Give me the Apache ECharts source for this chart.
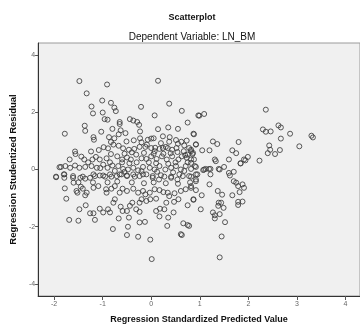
<!DOCTYPE html>
<html>
<head>
<meta charset="utf-8">
<script src="https://cdn.jsdelivr.net/npm/echarts@6/dist/echarts.min.js"></script>
<style>
  html, body { margin: 0; padding: 0; background: #fff; }
  #chart { width: 360px; height: 329px; }
</style>
</head>
<body>
<div id="chart"></div>
<script>
// 图表文字
var chartTitle = 'Scatterplot';
var chartSubtitle = 'Dependent Variable: LN_BM';
var xName = 'Regression Standardized Predicted Value';
var yName = 'Regression Studentized Residual';

// 刻度
var xTicks = [-2, -1, 0, 1, 2, 3, 4];
var yTicks = [-4, -2, 0, 2, 4];

// [predicted, residual]
var points = [
  [-1.48, 3.09], [-0.91, 2.97], [0.14, 3.10], [-1.33, 2.66], [-1.01, 2.41], [-0.83, 2.33],
  [0.37, 2.30], [-1.23, 2.20], [-0.76, 2.16], [-0.21, 2.19], [-0.73, 2.04], [0.63, 2.05],
  [-1.20, 1.96], [-1.00, 1.99], [0.07, 1.89], [0.97, 1.89], [-0.96, 1.76], [-0.90, 1.74],
  [-0.65, 1.66], [-0.65, 1.59], [-0.44, 1.76], [-0.37, 1.71], [-0.29, 1.66], [-0.25, 1.56],
  [0.75, 1.64], [-1.37, 1.53], [-1.36, 1.35], [-1.78, 1.25], [-1.03, 1.32], [-0.80, 1.42],
  [-0.63, 1.37], [-0.53, 1.27], [-0.67, 1.23], [-0.23, 1.33], [-0.23, 1.09], [0.14, 1.41],
  [0.35, 1.47], [0.55, 1.42], [0.87, 1.25], [-1.19, 1.13], [-1.18, 1.04], [-0.87, 1.13],
  [-0.76, 1.09], [-0.83, 0.96], [-0.51, 0.98], [-0.36, 1.02], [-0.07, 1.04], [0.05, 1.09],
  [0.24, 1.16], [0.38, 1.13], [0.37, 0.97], [0.51, 1.03], [0.62, 0.97], [0.73, 1.01],
  [0.92, 0.88], [-1.57, 0.63], [-1.56, 0.54], [-1.24, 0.63], [-1.08, 0.68], [-0.98, 0.78],
  [-0.89, 0.74], [-0.78, 0.87], [-0.67, 0.83], [-0.58, 0.74], [-0.46, 0.69], [-0.35, 0.72],
  [-0.24, 0.79], [-0.12, 0.79], [-0.09, 0.87], [0.08, 0.76], [0.17, 0.72], [0.30, 0.79],
  [0.43, 0.69], [0.52, 0.75], [0.67, 0.64], [0.78, 0.75], [0.86, 0.58], [-1.68, 0.35],
  [-1.44, 0.45], [-1.38, 0.35], [-1.21, 0.35], [-1.14, 0.44], [-1.06, 0.35], [-0.92, 0.39],
  [-0.83, 0.54], [-0.70, 0.46], [-0.60, 0.35], [-0.50, 0.42], [-0.42, 0.35], [-0.31, 0.52],
  [-0.20, 0.39], [-0.10, 0.37], [0.00, 0.46], [0.11, 0.37], [0.22, 0.46], [0.32, 0.35],
  [0.43, 0.46], [0.56, 0.35], [0.63, 0.46], [0.73, 0.41], [0.88, 0.35], [-1.86, 0.09],
  [-1.77, 0.12], [-1.67, 0.06], [-1.57, 0.14], [-1.48, 0.06], [-1.36, 0.09], [-1.23, 0.12],
  [-1.12, 0.06], [-0.99, 0.17], [-0.90, 0.06], [-0.80, 0.14], [-0.68, 0.12], [-0.58, 0.02],
  [-0.48, 0.00], [-0.37, 0.06], [-0.27, -0.03], [-0.17, 0.09], [-0.03, 0.06], [0.07, 0.00],
  [0.17, 0.12], [0.29, 0.00], [0.41, 0.06], [0.51, 0.12], [0.61, 0.00], [0.71, 0.12],
  [0.82, 0.02], [0.92, 0.09], [-1.96, -0.25], [-1.79, -0.17], [-1.61, -0.23], [-1.41, -0.25],
  [-1.19, -0.17], [-0.99, -0.21], [-0.82, -0.25], [-0.65, -0.17], [-0.50, -0.23], [-0.34, -0.25],
  [-0.17, -0.17], [0.03, -0.23], [0.20, -0.20], [0.41, -0.25], [0.58, -0.17], [0.78, -0.23],
  [0.95, -0.17], [-1.96, -0.27], [-1.80, -0.17], [-1.79, -0.29], [-1.61, -0.29], [-1.60, -0.46],
  [-1.46, -0.29], [-1.36, -0.32], [-1.26, -0.29], [-1.16, -0.23], [-1.06, -0.21], [-0.95, -0.25],
  [-0.85, -0.17], [-0.71, -0.23], [-0.61, -0.17], [-0.50, -0.21], [-0.37, -0.17], [-0.24, -0.23],
  [-0.10, -0.17], [0.03, -0.29], [0.16, -0.35], [0.27, -0.25], [0.41, -0.29], [0.54, -0.35],
  [0.65, -0.23], [0.82, -0.25], [0.92, -0.35], [-1.78, -0.66], [-1.54, -0.75], [-1.52, -0.81],
  [-1.45, -0.60], [-1.41, -0.67], [-1.33, -0.81], [-1.36, -0.90], [-1.19, -0.64], [-1.09, -0.58],
  [-0.93, -0.69], [-0.92, -0.81], [-0.82, -0.67], [-0.75, -0.58], [-0.65, -0.81], [-0.59, -0.67],
  [-0.50, -0.75], [-0.37, -0.67], [-0.27, -0.81], [-0.17, -0.75], [-0.12, -0.87], [-0.03, -0.81],
  [0.07, -0.69], [0.17, -0.72], [0.25, -0.79], [0.34, -0.81], [0.37, -0.93], [0.48, -0.83],
  [0.61, -0.75], [0.71, -0.69], [0.82, -0.64], [0.92, -0.72], [-1.75, -1.02], [-1.35, -1.25],
  [-1.48, -1.39], [-1.26, -1.53], [-1.19, -1.53], [-1.16, -1.76], [-1.06, -1.37], [-0.99, -1.50],
  [-0.89, -1.39], [-0.85, -1.50], [-0.78, -1.16], [-0.75, -1.04], [-0.63, -1.30], [-0.59, -1.45],
  [-0.50, -1.45], [-0.44, -1.27], [-0.39, -1.16], [-0.31, -1.39], [-0.24, -1.16], [-0.24, -1.48],
  [-0.20, -1.04], [-0.10, -1.10], [-0.02, -1.04], [0.10, -1.02], [0.10, -1.45], [0.18, -1.37],
  [0.27, -1.39], [0.31, -1.16], [0.47, -1.13], [0.46, -1.50], [0.56, -1.04], [0.75, -1.25],
  [0.87, -1.04], [-1.69, -1.76], [-1.50, -1.79], [-0.67, -1.71], [-0.46, -1.68], [-0.24, -1.85],
  [-0.13, -1.83], [0.17, -1.64], [0.35, -1.68], [0.33, -1.97], [0.66, -1.88], [0.75, -1.94],
  [-0.79, -2.08], [-0.48, -2.00], [-0.50, -2.29], [-0.27, -2.35], [-0.02, -2.45], [0.61, -2.26],
  [0.63, -2.29], [0.01, -3.13], [2.36, 2.09], [0.99, 1.88], [1.09, 1.94], [2.30, 1.40],
  [2.36, 1.32], [2.46, 1.33], [2.62, 1.54], [2.67, 1.47], [2.86, 1.25], [3.30, 1.18],
  [3.33, 1.12], [0.88, 1.23], [0.92, 0.87], [1.27, 0.98], [1.36, 0.89], [1.80, 0.96],
  [2.67, 1.08], [2.43, 0.84], [2.45, 0.69], [2.40, 0.57], [2.55, 0.54], [2.65, 0.68],
  [3.05, 0.81], [0.82, 0.69], [0.85, 0.54], [1.05, 0.67], [1.20, 0.67], [1.67, 0.67],
  [1.75, 0.57], [1.31, 0.35], [1.60, 0.35], [1.91, 0.35], [1.99, 0.44], [2.23, 0.31],
  [1.84, 0.22], [0.82, 0.35], [0.90, 0.12], [1.09, 0.00], [1.19, 0.02], [1.39, 0.02],
  [1.50, 0.09], [1.60, -0.12], [1.70, -0.08], [0.92, -0.17], [1.22, -0.17], [0.82, 0.23],
  [1.07, -0.02], [1.12, 0.02], [1.22, 0.02], [1.33, 0.29], [1.41, 0.00], [1.62, -0.21],
  [1.84, 0.21], [1.94, 0.32], [0.92, -0.41], [0.82, -0.58], [1.20, -0.52], [1.70, -0.41],
  [1.75, -0.46], [1.79, -0.58], [1.88, -0.52], [1.91, -0.64], [1.82, -0.79], [1.67, -0.90],
  [1.37, -0.75], [1.46, -0.88], [1.04, -0.90], [0.87, -1.06], [1.39, -1.16], [1.44, -1.16],
  [1.38, -1.27], [1.49, -1.34], [1.79, -1.13], [1.79, -1.24], [1.88, -1.12], [1.02, -1.39],
  [1.27, -1.50], [1.31, -1.60], [1.31, -1.71], [1.41, -1.56], [1.52, -1.84], [0.78, -1.97],
  [1.45, -2.34], [1.41, -3.07], [-1.89, 0.08], [0.00, 1.08], [0.68, 0.84], [0.07, 0.64],
  [0.24, 0.75], [0.34, 0.75], [0.54, 0.61], [0.75, 0.52], [0.82, 0.64],
  [-0.55, 0.55], [-0.40, 0.60], [-0.15, 0.58], [0.05, 0.55], [0.25, 0.55], [0.40, 0.57],
  [0.70, 0.50], [-0.60, 0.25], [-0.45, 0.22], [-0.30, 0.25], [-0.05, 0.25], [0.10, 0.22],
  [0.35, 0.20], [0.50, 0.25], [0.75, 0.25], [-0.85, 0.25], [-1.30, 0.25], [-0.75, -0.05],
  [-0.55, -0.08], [-0.20, -0.06], [0.12, -0.08], [0.45, -0.10], [0.68, -0.05], [-0.90, -0.45],
  [-0.70, -0.42], [-0.40, -0.45], [-0.15, -0.48], [0.05, -0.45], [0.30, -0.48], [0.55, -0.50],
  [0.80, -0.45], [-1.20, -0.45], [-1.05, 0.05], [-1.50, -0.45], [0.00, 0.75], [0.20, 0.92],
  [-0.20, 0.95], [0.55, 0.90]
];

var chart = echarts.init(document.getElementById('chart'), null, { renderer: 'canvas' });

var option = {
  backgroundColor: '#ffffff',
  animation: false,
  title: [
    {
      text: chartTitle,
      left: 187,
      top: 8,
      textAlign: 'center',
      textStyle: { fontFamily: 'Liberation Sans', fontSize: 9, fontWeight: 'bold', color: '#111' }
    },
    {
      text: chartSubtitle,
      left: 187,
      top: 27,
      textAlign: 'center',
      textStyle: { fontFamily: 'Liberation Sans', fontSize: 10, fontWeight: 'normal', color: '#111' }
    }
  ],
  grid: {
    show: true,
    left: 38,
    right: -2,
    top: 43,
    bottom: 31,
    backgroundColor: '#f0f0f0',
    borderColor: '#9a9a9a',
    borderWidth: 1
  },
  xAxis: {
    type: 'value',
    min: -2.33,
    max: 4.3,
    name: xName,
    nameLocation: 'middle',
    nameGap: 19,
    nameTextStyle: { fontFamily: 'Liberation Sans', fontSize: 9, fontWeight: 'bold', color: '#111' },
    splitLine: { show: false },
    axisLine: { show: true, onZero: false, lineStyle: { color: '#333', width: 1 } },
    axisTick: { show: true, length: 4, lineStyle: { color: '#555' }, customValues: xTicks },
    axisLabel: { fontFamily: 'Liberation Sans', fontSize: 7, color: '#666', margin: 5, customValues: xTicks }
  },
  yAxis: {
    type: 'value',
    min: -4.42,
    max: 4.42,
    name: yName,
    nameLocation: 'middle',
    nameGap: 18,
    nameTextStyle: { fontFamily: 'Liberation Sans', fontSize: 9.5, fontWeight: 'bold', color: '#111' },
    splitLine: { show: false },
    axisLine: { show: true, onZero: false, lineStyle: { color: '#333', width: 1 } },
    axisTick: { show: true, length: 3, lineStyle: { color: '#555' }, customValues: yTicks },
    axisLabel: { fontFamily: 'Liberation Sans', fontSize: 7, color: '#666', margin: 3, customValues: yTicks }
  },
  series: [
    {
      type: 'scatter',
      data: points,
      symbol: 'circle',
      symbolSize: 5,
      itemStyle: {
        color: 'rgba(0,0,0,0)',
        borderColor: '#3c3c3c',
        borderWidth: 1,
        opacity: 0.85
      }
    }
  ]
};

chart.setOption(option);
</script>
</body>
</html>
